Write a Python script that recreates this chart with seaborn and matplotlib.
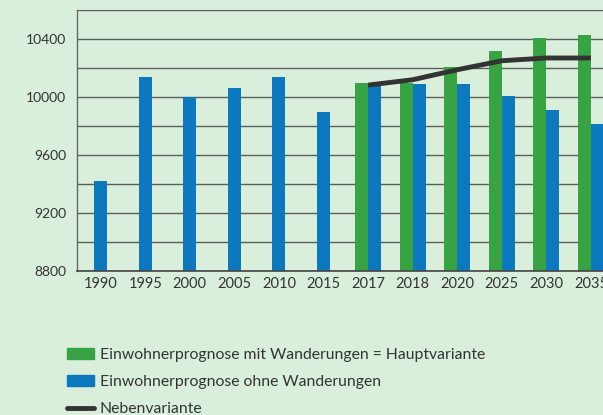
import pandas as pd
import seaborn as sns
import matplotlib.pyplot as plt
from matplotlib.patches import Patch
from matplotlib.lines import Line2D
from matplotlib.ticker import MultipleLocator

years = ['1990', '1995', '2000', '2005', '2010', '2015',
         '2017', '2018', '2020', '2025', '2030', '2035']
hist_years = years[:6]
hist_values = [9420, 10135, 10000, 10065, 10140, 9900]
prog_years = years[6:]
mit_wanderungen = [10100, 10100, 10205, 10320, 10405, 10425]
ohne_wanderungen = [10095, 10092, 10092, 10005, 9912, 9815]
nebenvariante = [10082, 10119, 10188, 10250, 10269, 10269]

labels = ['Einwohnerprognose mit Wanderungen = Hauptvariante',
          'Einwohnerprognose ohne Wanderungen',
          'Nebenvariante']

bg = '#daeedc'
green = '#38a343'
blue = '#0c78be'
dark = '#333333'

sns.set_theme(style='ticks', rc={'axes.facecolor': bg, 'figure.facecolor': bg})
plt.rcParams['font.family'] = ['Lato', 'DejaVu Sans']

hist = pd.DataFrame({'Jahr': hist_years, 'Einwohner': hist_values})
prog = pd.DataFrame({'Jahr': prog_years * 2,
                     'Einwohner': mit_wanderungen + ohne_wanderungen,
                     'Variante': [labels[0]] * 6 + [labels[1]] * 6})

fig = plt.figure(figsize=(6.03, 4.15), dpi=100)
ax = fig.add_axes([77 / 603, 144 / 415, 1 - 77 / 603, 261 / 415])

sns.barplot(data=hist, x='Jahr', y='Einwohner', order=years, color=blue,
            width=0.29, saturation=1, linewidth=0, ax=ax)
sns.barplot(data=prog, x='Jahr', y='Einwohner', hue='Variante', order=years,
            palette=[green, blue], width=0.58, saturation=1, linewidth=0,
            ax=ax, legend=False)
pos = [years.index(y) for y in prog_years]
sns.lineplot(x=pos, y=nebenvariante, color=dark, lw=3.5, ax=ax,
             solid_capstyle='butt')

ax.set_ylim(8800, 10600)
ax.set_xlim(-0.53, 11.27)
ax.yaxis.set_major_locator(MultipleLocator(400))
ax.yaxis.set_minor_locator(MultipleLocator(200))
ax.yaxis.grid(True, which='both', color='#5c5c5c', lw=1)
ax.set_axisbelow(True)
ax.set_xticks(range(len(years)))
ax.set_xticklabels(years)
ax.tick_params(axis='y', which='both', length=0, pad=8, labelsize=10, labelcolor=dark)
ax.tick_params(axis='x', length=0, pad=4, labelsize=10.5, labelcolor=dark)
ax.set_xlabel('')
ax.set_ylabel('')
for s in ['top', 'right']:
    ax.spines[s].set_visible(False)
ax.spines['left'].set_color('#666666')
ax.spines['bottom'].set_color('#444444')
ax.spines['left'].set_linewidth(1)
ax.spines['bottom'].set_linewidth(1.2)

handles = [Patch(color=green), Patch(color=blue), Line2D([], [], color=dark, lw=3.5)]
fig.legend(handles, labels, loc='upper left', bbox_to_anchor=(67 / 603, 0.161),
           frameon=False, fontsize=11.3, labelcolor=dark, handlelength=1.7,
           handletextpad=0.4, labelspacing=0.83, borderpad=0, borderaxespad=0)

fig.savefig('out.png', dpi=100, facecolor=bg)
